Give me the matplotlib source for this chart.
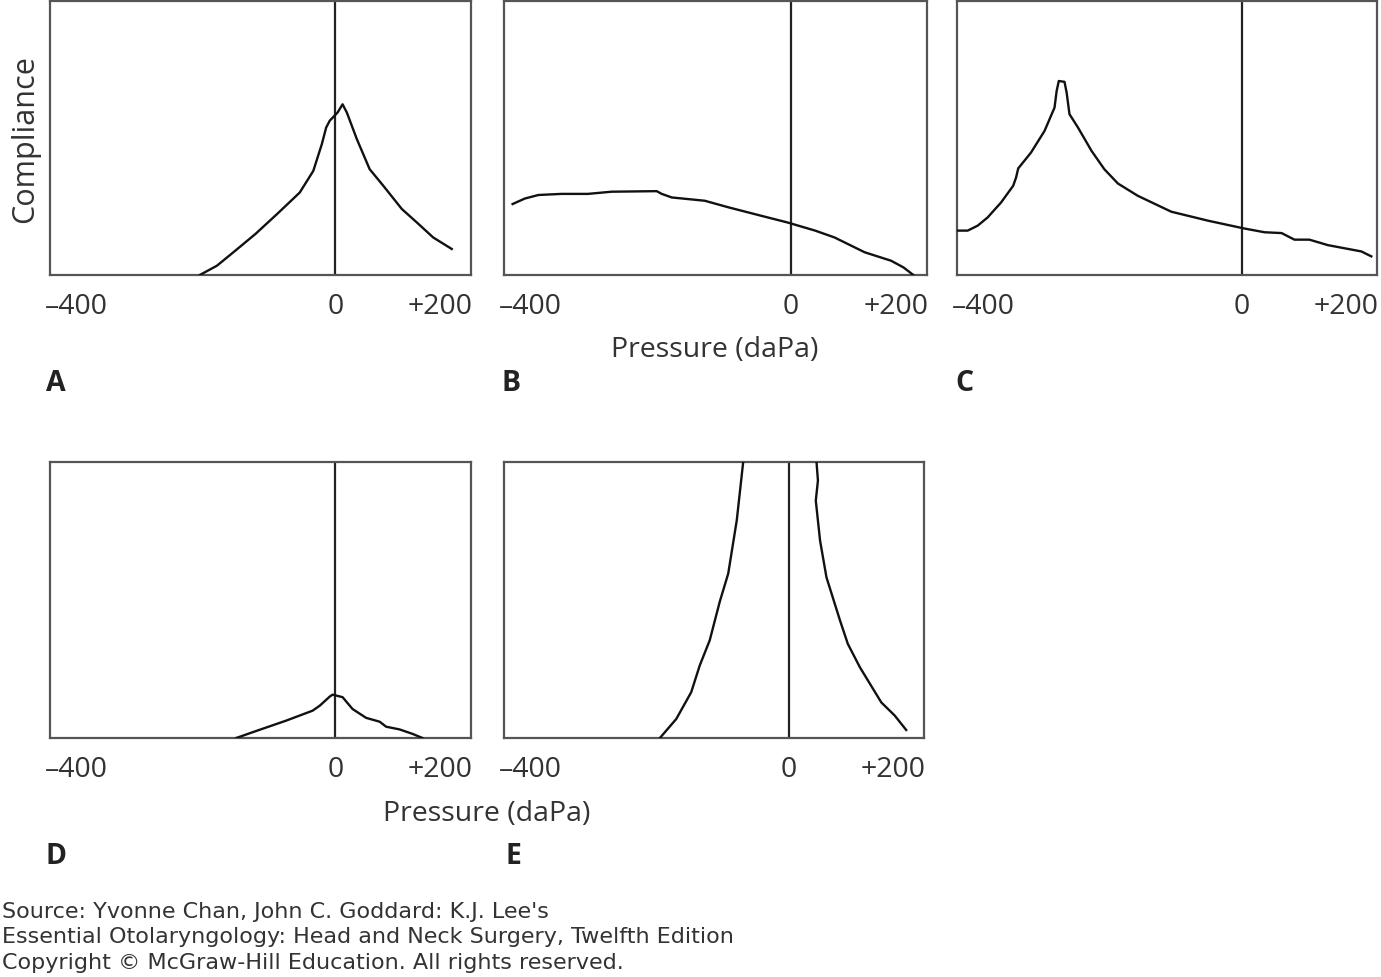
import matplotlib
matplotlib.use("Agg")
import matplotlib.pyplot as plt
import matplotlib.transforms as mtransforms

# ---- data (pressure in daPa, compliance in relative units 0..1) ----
a_p = [-190, -166, -143, -112, -82, -50, -31, -19, -13, -8, 3, 10, 16, 30, 48, 67, 93, 114, 137, 163]
a_c = [0.0, 0.034, 0.083, 0.150, 0.222, 0.301, 0.380, 0.478, 0.538, 0.563, 0.593, 0.623, 0.593, 0.496, 0.386, 0.326, 0.241, 0.192, 0.137, 0.095]

b_p = [-388, -371, -352, -320, -283, -250, -187, -180, -166, -120, -87, -41, -5, 34, 61, 103, 140, 157, 171]
b_c = [0.259, 0.279, 0.292, 0.296, 0.296, 0.304, 0.306, 0.296, 0.283, 0.271, 0.247, 0.216, 0.192, 0.162, 0.137, 0.083, 0.052, 0.028, 0.0]

c_p = [-400, -385, -371, -357, -338, -321, -317, -314, -296, -277, -263, -260, -257, -249, -246, -242,
       -230, -211, -193, -174, -146, -99, -47, 3, 32, 56, 74, 95, 121, 168, 182]
c_c = [0.162, 0.162, 0.180, 0.210, 0.265, 0.326, 0.356, 0.389, 0.447, 0.526, 0.611, 0.672, 0.708, 0.705, 0.666, 0.587,
       0.538, 0.453, 0.386, 0.334, 0.289, 0.231, 0.198, 0.170, 0.156, 0.153, 0.129, 0.129, 0.109, 0.086, 0.068]

d_p = [-139, -116, -69, -32, -22, -8, -4, 10, 24, 43, 62, 71, 90, 108, 122]
d_c = [0.0, 0.021, 0.063, 0.099, 0.117, 0.150, 0.157, 0.148, 0.105, 0.073, 0.059, 0.041, 0.031, 0.015, 0.0]

e_left_p = [-181, -158, -137, -125, -111, -97, -85, -73, -64]
e_left_c = [0.0, 0.069, 0.166, 0.263, 0.354, 0.493, 0.596, 0.789, 1.0]
e_right_p = [39, 41, 38, 44, 53, 72, 83, 100, 130, 149, 165]
e_right_c = [1.0, 0.933, 0.860, 0.715, 0.582, 0.426, 0.341, 0.256, 0.129, 0.081, 0.029]

tick_labels = ["\u2013400", "0", "+200"]
panel_letters = ["A", "B", "C", "D", "E"]
x_label = "Pressure (daPa)"
y_label = "Compliance"
source_lines = [
    "Source: Yvonne Chan, John C. Goddard: K.J. Lee's",
    "Essential Otolaryngology: Head and Neck Surgery, Twelfth Edition",
    "Copyright \u00a9 McGraw-Hill Education. All rights reserved.",
]

XMIN, XMAX = -400, 190

plt.rcParams["font.family"] = ["Open Sans", "DejaVu Sans"]

W, H = 1381, 978
fig = plt.figure(figsize=(W / 100, H / 100), dpi=100)


def px_axes(x0, y0, x1, y1):
    return fig.add_axes([x0 / W, 1 - y1 / H, (x1 - x0) / W, (y1 - y0) / H])


boxes = [
    (50, 2, 471, 276),
    (504, 2, 927, 276),
    (957, 2, 1377, 276),
    (50, 463, 471, 739),
    (504, 463, 924, 739),
]
curves = [
    [(a_p, a_c)],
    [(b_p, b_c)],
    [(c_p, c_c)],
    [(d_p, d_c)],
    [(e_left_p, e_left_c), (e_right_p, e_right_c)],
]

axes = []
for box, cs in zip(boxes, curves):
    ax = px_axes(*box)
    ax.set_xlim(XMIN, XMAX)
    ax.set_ylim(0, 1)
    ax.axvline(0, color="#222222", lw=1.6, zorder=2)
    for p, c in cs:
        ax.plot(p, c, color="#111111", lw=1.7, clip_on=True, zorder=3,
                solid_joinstyle="round")
    ax.set_yticks([])
    ax.set_xticks([XMIN, 0, XMAX])
    ax.set_xticklabels(tick_labels, fontsize=20.5, color="#333333")
    tl = ax.get_xticklabels()
    tl[0].set_ha("left")
    tl[2].set_ha("right")
    ax.tick_params(axis="x", length=0, pad=12)
    for s in ax.spines.values():
        s.set_color("#555555")
        s.set_linewidth(1.6)
    off_l = mtransforms.ScaledTranslation(-5 / 100, 0, fig.dpi_scale_trans)
    off_r = mtransforms.ScaledTranslation(2 / 100, 0, fig.dpi_scale_trans)
    tl[0].set_transform(tl[0].get_transform() + off_l)
    tl[2].set_transform(tl[2].get_transform() + off_r)
    axes.append(ax)

axes[0].set_ylabel(y_label, fontsize=22, color="#333333", labelpad=7)

fig.text(715 / W, 1 - 350 / H, x_label, fontsize=20.5, color="#333333", ha="center", va="center")
fig.text(487 / W, 1 - 814 / H, x_label, fontsize=20.5, color="#333333", ha="center", va="center")

letter_pos = [(46, 384), (501, 384), (955, 384), (46, 857), (505, 857)]
for lt, (x, y) in zip(panel_letters, letter_pos):
    fig.text(x / W, 1 - y / H, lt, fontsize=20.5, fontweight="bold", color="#222222", ha="left", va="center")

for i, line in enumerate(source_lines):
    fig.text(2 / W, 1 - (912 + 25.5 * i) / H, line, fontsize=16, color="#333333",
             ha="left", va="center", family="DejaVu Sans")

fig.savefig("out.png", dpi=100, facecolor="white")
